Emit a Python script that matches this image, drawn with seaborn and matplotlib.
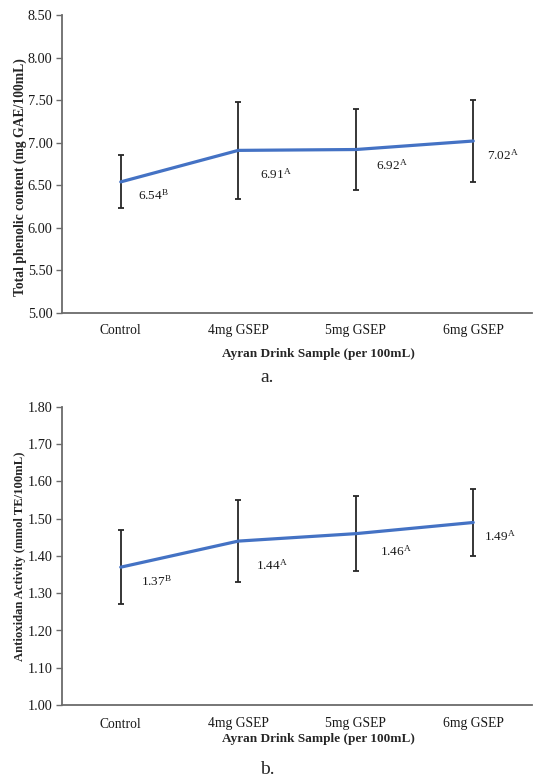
import numpy as np
import pandas as pd
import matplotlib
matplotlib.use("Agg")
import matplotlib.pyplot as plt
import seaborn as sns

samples = ["Control", "4mg GSEP", "5mg GSEP", "6mg GSEP"]

tpc_mean = [6.54, 6.91, 6.92, 7.02]
tpc_err = [0.31, 0.57, 0.48, 0.48]
tpc_letters = ["B", "A", "A", "A"]

aa_mean = [1.37, 1.44, 1.46, 1.49]
aa_err = [0.10, 0.11, 0.10, 0.09]
aa_letters = ["B", "A", "A", "A"]

sns.set_theme(style="white")
plt.rcParams["font.family"] = ["Liberation Serif", "DejaVu Serif"]
plt.rcParams["mathtext.fontset"] = "custom"
plt.rcParams["mathtext.rm"] = "Liberation Serif"
plt.rcParams["mathtext.it"] = "Liberation Serif:italic"
plt.rcParams["mathtext.bf"] = "Liberation Serif:bold"

W, H = 534, 782
fig = plt.figure(figsize=(W / 100, H / 100), dpi=100)

LINE = "#4472C4"
SPINE = "#6b6b6b"


def panel(ax_rect, means, errs, letters, ylim, yticks, ylabel, ylabel_size, ylabel_y, offsets,
          tick_pad, xlabel_y, caption_y, caption):
    ax = fig.add_axes(ax_rect)
    df = pd.DataFrame({"sample": samples, "value": means})
    sns.lineplot(data=df, x="sample", y="value", ax=ax, color=LINE, linewidth=2.3, sort=False)
    ax.errorbar(np.arange(len(samples)), means, yerr=errs, fmt="none", ecolor="#262626",
                elinewidth=1.3, capsize=2, capthick=1.3, zorder=1)
    ax.set_xlim(-0.5, len(samples) - 0.5)
    ax.set_ylim(*ylim)
    ax.set_yticks(yticks)
    ax.set_yticklabels([f"{t:.2f}" for t in yticks])
    ax.set_xticks(range(len(samples)))
    ax.set_xticklabels(samples)
    ax.set_xticks([0.5, 1.5, 2.5], minor=True)
    ax.tick_params(axis="x", which="major", length=0, pad=tick_pad, labelsize=9.8, colors="#1a1a1a")
    ax.tick_params(axis="x", which="minor", length=4, direction="in", color=SPINE, width=1)
    ax.tick_params(axis="y", which="major", length=4, direction="out", color=SPINE, width=1,
                   labelsize=10.3, labelcolor="#1a1a1a", pad=3, left=True)
    for s in ["top", "right"]:
        ax.spines[s].set_visible(False)
    for s in ["left", "bottom"]:
        ax.spines[s].set_color(SPINE)
        ax.spines[s].set_linewidth(1.3)
    ax.set_xlabel("Ayran Drink Sample (per 100mL)", fontsize=9.5, fontweight="bold")
    ax.xaxis.set_label_coords(0.545, xlabel_y)
    ax.xaxis.label.set_va("center")
    ax.set_ylabel(ylabel, fontsize=ylabel_size, fontweight="bold")
    ax.yaxis.set_label_coords(-0.089, ylabel_y)
    ax.yaxis.label.set_va("center")
    for i, (m, l) in enumerate(zip(means, letters)):
        dx, dy = offsets[i]
        ax.annotate(f"{m:.2f}" + r"$^{\mathrm{" + l + r"}}$", (i, m), xytext=(dx, -dy),
                    textcoords="offset pixels", ha="left", va="center", fontsize=9.5, color="#1a1a1a")
    fig.text(0.5, caption_y, caption, ha="center", va="center", fontsize=14)
    return ax


panel([62 / W, (H - 313) / H, 470 / W, 298 / H], tpc_mean, tpc_err, tpc_letters,
      (5.0, 8.5), np.arange(5.0, 8.51, 0.5), "Total phenolic content (mg GAE/100mL)", 9.8,
      (313 - 177) / 298, [(17, 13), (22, 24), (20, 16), (14, 14)], 8, -(354 - 313) / 298,
      1 - 378 / H, "a.")

panel([62 / W, (H - 705) / H, 470 / W, 298 / H], aa_mean, aa_err, aa_letters,
      (1.0, 1.8), np.arange(1.0, 1.81, 0.1), "Antioxidan Activity (mmol TE/100mL)", 9.1,
      0.5, [(20, 14), (18, 24), (24, 18), (11, 14)], 9, -(739 - 705) / 298,
      1 - 770 / H, "b.")

fig.savefig("out.png", dpi=100)
